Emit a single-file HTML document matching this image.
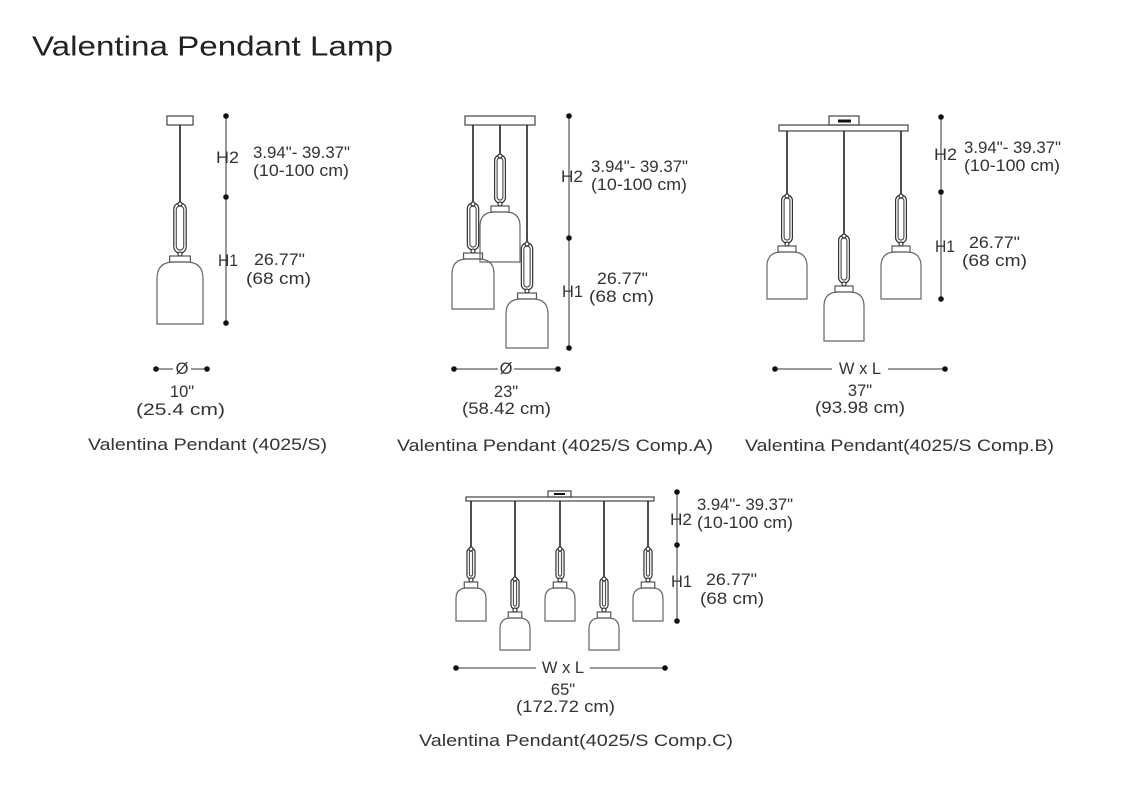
<!DOCTYPE html>
<html><head><meta charset="utf-8">
<style>
html,body{margin:0;padding:0;background:#fff;}
svg{display:block;}
text{font-family:"Liberation Sans",sans-serif;fill:#333;dominant-baseline:central;}
.t{font-size:16.5px;}
</style></head>
<body>
<svg id="s" width="1136" height="800" viewBox="0 0 1136 800" xmlns="http://www.w3.org/2000/svg">
<rect width="1136" height="800" fill="#fff"/>
<text x="32" y="46" font-size="28" textLength="361" lengthAdjust="spacingAndGlyphs" style="fill:#222">Valentina Pendant Lamp</text>

<!-- Single -->
<text class="t" x="216" y="158" textLength="23" lengthAdjust="spacingAndGlyphs">H2</text>
<text class="t" x="253" y="153" textLength="97" lengthAdjust="spacingAndGlyphs">3.94"- 39.37"</text>
<text class="t" x="253" y="171" textLength="96" lengthAdjust="spacingAndGlyphs">(10-100 cm)</text>
<text class="t" x="218" y="261" textLength="20" lengthAdjust="spacingAndGlyphs">H1</text>
<text class="t" x="254" y="260" textLength="51" lengthAdjust="spacingAndGlyphs">26.77"</text>
<text class="t" x="246" y="279" textLength="65" lengthAdjust="spacingAndGlyphs">(68 cm)</text>
<text class="t" x="182" y="369" text-anchor="middle">Ø</text>
<text class="t" x="182" y="392" text-anchor="middle">10"</text>
<text class="t" x="136" y="410" textLength="89" lengthAdjust="spacingAndGlyphs">(25.4 cm)</text>
<text class="t" x="88" y="445" textLength="239" lengthAdjust="spacingAndGlyphs">Valentina Pendant (4025/S)</text>

<!-- A -->
<text class="t" x="561" y="177" textLength="22" lengthAdjust="spacingAndGlyphs">H2</text>
<text class="t" x="591" y="167" textLength="97" lengthAdjust="spacingAndGlyphs">3.94"- 39.37"</text>
<text class="t" x="591" y="185" textLength="96" lengthAdjust="spacingAndGlyphs">(10-100 cm)</text>
<text class="t" x="562" y="292" textLength="21" lengthAdjust="spacingAndGlyphs">H1</text>
<text class="t" x="597" y="279" textLength="51" lengthAdjust="spacingAndGlyphs">26.77"</text>
<text class="t" x="589" y="297" textLength="65" lengthAdjust="spacingAndGlyphs">(68 cm)</text>
<text class="t" x="506" y="369" text-anchor="middle">Ø</text>
<text class="t" x="506" y="392" text-anchor="middle">23"</text>
<text class="t" x="462" y="409" textLength="89" lengthAdjust="spacingAndGlyphs">(58.42 cm)</text>
<text class="t" x="397" y="446" textLength="316" lengthAdjust="spacingAndGlyphs">Valentina Pendant (4025/S Comp.A)</text>

<!-- B -->
<text class="t" x="934" y="155" textLength="23" lengthAdjust="spacingAndGlyphs">H2</text>
<text class="t" x="964" y="148" textLength="97" lengthAdjust="spacingAndGlyphs">3.94"- 39.37"</text>
<text class="t" x="964" y="166" textLength="96" lengthAdjust="spacingAndGlyphs">(10-100 cm)</text>
<text class="t" x="935" y="247" textLength="20" lengthAdjust="spacingAndGlyphs">H1</text>
<text class="t" x="969" y="243" textLength="51" lengthAdjust="spacingAndGlyphs">26.77"</text>
<text class="t" x="962" y="261" textLength="65" lengthAdjust="spacingAndGlyphs">(68 cm)</text>
<text class="t" x="860" y="369" text-anchor="middle">W x L</text>
<text class="t" x="860" y="391" text-anchor="middle">37"</text>
<text class="t" x="815" y="408" textLength="90" lengthAdjust="spacingAndGlyphs">(93.98 cm)</text>
<text class="t" x="745" y="446" textLength="309" lengthAdjust="spacingAndGlyphs">Valentina Pendant(4025/S Comp.B)</text>

<!-- C -->
<text class="t" x="697" y="505" textLength="96" lengthAdjust="spacingAndGlyphs">3.94"- 39.37"</text>
<text class="t" x="670" y="520" textLength="22" lengthAdjust="spacingAndGlyphs">H2</text>
<text class="t" x="697" y="523" textLength="96" lengthAdjust="spacingAndGlyphs">(10-100 cm)</text>
<text class="t" x="671" y="582" textLength="21" lengthAdjust="spacingAndGlyphs">H1</text>
<text class="t" x="706" y="580" textLength="51" lengthAdjust="spacingAndGlyphs">26.77"</text>
<text class="t" x="700" y="599" textLength="64" lengthAdjust="spacingAndGlyphs">(68 cm)</text>
<text class="t" x="563" y="668" text-anchor="middle">W x L</text>
<text class="t" x="563" y="690" text-anchor="middle">65"</text>
<text class="t" x="516" y="707" textLength="99" lengthAdjust="spacingAndGlyphs">(172.72 cm)</text>
<text class="t" x="419" y="741" textLength="314" lengthAdjust="spacingAndGlyphs">Valentina Pendant(4025/S Comp.C)</text>

<g id="g" fill="none" stroke="#333" stroke-width="1.2"></g>
</svg>
<script>
var g=document.getElementById('g'),h='';
function L(x1,y1,x2,y2,c,w){h+='<line x1="'+x1+'" y1="'+y1+'" x2="'+x2+'" y2="'+y2+'" stroke="'+(c||'#333')+'" stroke-width="'+(w||1.2)+'"/>';}
function R(x,y,w,hh,rx,c){h+='<rect x="'+x+'" y="'+y+'" width="'+w+'" height="'+hh+'" rx="'+(rx||0)+'" stroke="'+(c||'#333')+'"/>';}
function D(x,y){h+='<circle cx="'+x+'" cy="'+y+'" r="2.8" fill="#111" stroke="none"/>';}
function lamp(cx,top,lt,lh,sw,sb){
  L(cx,top,cx,lt,'#222',1.6);
  var lw=sw*0.27;
  R(cx-lw/2,lt,lw,lh,lw/2,'#333');
  R(cx-lw/2+2.5,lt+3,lw-5,lh-6,(lw-5)/2,'#555');
  h+='<circle cx="'+cx+'" cy="'+(lt+1)+'" r="2" fill="#fff" stroke="#333"/>';
  h+='<circle cx="'+cx+'" cy="'+(lt+lh+1)+'" r="2" fill="#fff" stroke="#333"/>';
  var cw=sw*0.45,ct=lt+lh+3;
  R(cx-cw/2,ct,cw,6,0,'#555');
  var st=ct+6,x1=cx-sw/2,x2=cx+sw/2,r=sw*0.36;
  h+='<path d="M'+(cx-cw/2)+' '+st+' L'+(x1+r)+' '+st+' Q'+x1+' '+st+' '+x1+' '+(st+r)+' L'+x1+' '+sb+' L'+x2+' '+sb+' L'+x2+' '+(st+r)+' Q'+x2+' '+st+' '+(x2-r)+' '+st+' Z" stroke="#666"/>';
}
function vdim(x,a,b,c){L(x,a,x,c,'#333',1);D(x,a);D(x,b);D(x,c);}
R(167,116,26,9,0,'#444');
lamp(180,125,203,50,46,324);
vdim(226,116,197,323);
L(156,369,173,369,'#333',1);L(191,369,207,369,'#333',1);D(156,369);D(207,369);
R(465,116,70,9,0,'#444');
lamp(473,125,203,47,42,309);
lamp(500,125,155,48,40,262);
lamp(527,125,243,47,42,348);
vdim(569,116,238,348);
L(454,369,498,369,'#333',1);L(514,369,558,369,'#333',1);D(454,369);D(558,369);
R(829,116,30,9,0,'#444');h+='<rect x="838" y="119.5" width="13" height="3" fill="#111" stroke="none"/>';
R(779,125,129,6,0,'#444');
lamp(787,131,195,48,40,299);
lamp(844,131,235,48,40,341);
lamp(901,131,195,48,40,299);
vdim(941,117,192,299);
L(775,369,832,369,'#333',1);L(888,369,945,369,'#333',1);D(775,369);D(945,369);
R(548,491,23,6,0,'#444');h+='<rect x="554" y="493" width="11" height="2" fill="#111" stroke="none"/>';
R(466,497,188,4,0,'#444');
[471,560,648].forEach(function(c){lamp(c,501,548,31,30,621);});
[515,604].forEach(function(c){lamp(c,501,578,31,30,650);});
vdim(677,492,545,621);
L(456,668,536,668,'#333',1);L(590,668,665,668,'#333',1);D(456,668);D(665,668);
g.innerHTML=h;
</script>
</body></html>
